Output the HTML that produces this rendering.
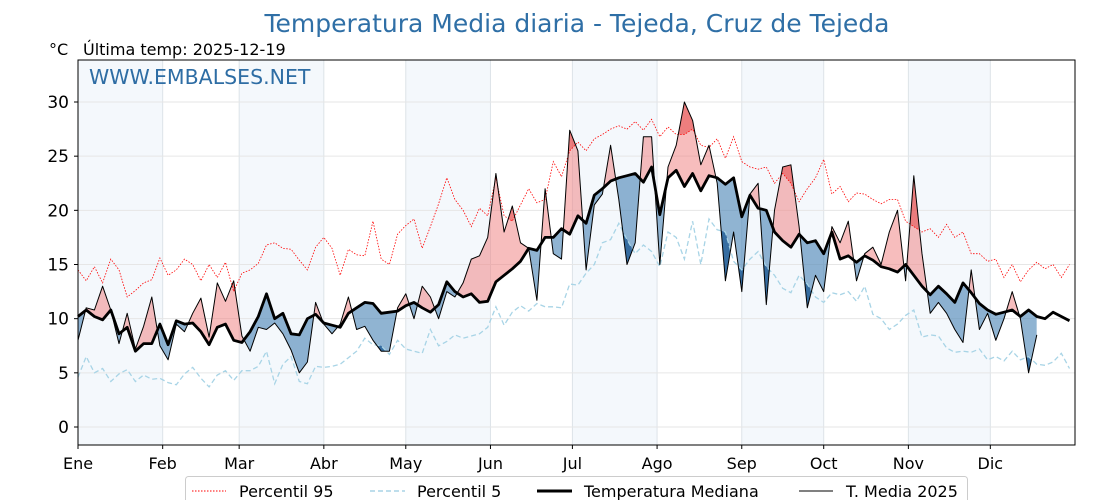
<!DOCTYPE html>
<html><head><meta charset="utf-8">
<style>
body{margin:0;background:#fff;}
svg{display:block;font-family:"DejaVu Sans","Liberation Sans",sans-serif;}
</style></head>
<body>
<svg id="chart" width="1120" height="500" viewBox="0 0 1120 500" xmlns="http://www.w3.org/2000/svg">
<text x="577" y="32" text-anchor="middle" font-size="25" fill="#2f6fa6">Temperatura Media diaria - Tejeda, Cruz de Tejeda</text>
<text x="49" y="55" font-size="16" fill="#000">°C</text>
<text x="83" y="55" font-size="16" fill="#000">Última temp: 2025-12-19</text>
<g id="bands"></g>
<g id="grid"></g>
<g id="fills"></g>
<g id="lines"></g>
<text x="89" y="84" font-size="20.5" fill="#2e6da4">WWW.EMBALSES.NET</text>
<rect x="78" y="60" width="997" height="385" fill="none" stroke="#000" stroke-width="1"/>
<g id="axes"></g>
<g>
<rect x="185.5" y="476.5" width="782" height="30" rx="3" fill="#fff" stroke="#ccc"/>
<line x1="192" y1="491" x2="226" y2="491" stroke="red" stroke-width="1" stroke-dasharray="1.5,1.5"/>
<text x="239" y="497" font-size="16">Percentil 95</text>
<line x1="370" y1="491" x2="405" y2="491" stroke="#a8d4e6" stroke-width="1.5" stroke-dasharray="5,3"/>
<text x="417" y="497" font-size="16">Percentil 5</text>
<line x1="537" y1="491" x2="572" y2="491" stroke="#000" stroke-width="3"/>
<text x="584" y="497" font-size="16">Temperatura Mediana</text>
<line x1="799" y1="491" x2="833" y2="491" stroke="#000" stroke-width="1"/>
<text x="846" y="497" font-size="16">T. Media 2025</text>
</g>
</svg>
<script>
const STEP = 3; // days between samples
const monthLabels = ["Ene","Feb","Mar","Abr","May","Jun","Jul","Ago","Sep","Oct","Nov","Dic"];
const monthStartDays = [0,31,59,90,120,151,181,212,243,273,304,334];
const yTicks = [0,5,10,15,20,25,30];
const median = [10.2,10.8,10.2,9.9,10.8,8.6,9.2,7.0,7.7,7.7,9.5,7.6,9.8,9.5,9.6,8.8,7.6,9.2,9.5,8.0,7.8,8.8,10.2,12.3,10.0,10.5,8.6,8.5,10.0,10.4,9.6,
9.4,9.2,10.5,11,11.5,11.4,10.5,10.6,10.7,11.2,11.5,11,10.6,11.3,13.4,12.5,12,12.3,11.5,11.6,13.4,14,14.6,15.3,16.5,16.3,17.5,17.5,18.3,17.8,19.5,
18.8,21.4,22,22.7,23,23.2,23.4,22.6,24,19.6,23,23.7,22.2,23.4,21.8,23.2,23.0,22.4,23.0,19.4,21.4,20.2,20.0,18.0,17.2,16.6,17.8,17.0,17.2,16.0,
18.0,15.5,15.8,15.2,15.8,15.4,14.8,14.6,14.3,15.0,14.0,13.0,12.2,13.0,12.3,11.5,13.3,12.4,11.4,10.8,10.4,10.6,10.8,10.2,10.8,10.2,10.0,10.6,10.2,9.8];
const t2025 = [8.0,11,10.8,13.0,10.8,7.7,10.5,7.2,9.3,12.0,7.5,6.2,9.5,8.8,10.5,11.9,8.3,13.3,11.6,13.5,8.4,7.0,9.2,9.0,9.6,8.6,7.1,5.0,6.0,11.5,9.5,
8.6,9.5,12.0,9.0,9.3,8.0,7.0,7.0,11.0,12.3,10.0,13.0,12.0,10.0,12.5,12.0,13.3,15.5,15.8,17.5,23.4,18.0,20.4,17.0,16.5,11.7,22.0,16.0,15.5,27.4,25.5,
14.5,20.5,21.5,26.0,21.0,15.0,17.0,26.8,26.8,15.0,24.0,26.0,30.0,28.3,24.2,26.0,22.5,13.5,18.0,12.5,21.5,22.5,11.3,20.0,24.0,24.2,18.5,11.0,14.0,12.5,
18.5,17.0,19.0,13.5,16.0,16.6,15.0,18.0,20.0,13.5,23.2,16.0,10.5,11.5,10.5,9.0,7.8,14.5,9.0,10.5,8.0,10.0,12.5,10.0,5.0,8.5];
const p95 = [14.5,13.5,14.8,13.3,15.5,14.5,12.0,12.6,13.3,13.6,15.6,14.0,14.5,15.5,15.0,13.5,15.0,13.8,15.2,12.5,14.2,14.5,15.1,16.8,17.0,16.5,16.4,15.4,14.5,16.6,17.5,
16.5,14.0,16.4,15.9,15.8,19.0,15.5,15.0,17.8,18.6,19.2,16.5,18.5,20.6,23.0,21.0,20.0,18.5,20.2,19.5,23.0,19.5,19.0,20.5,22.0,20.7,21.0,24.5,23.1,25.5,26.3,
25.5,26.6,27.0,27.5,27.8,27.5,28.2,27.4,28.4,26.8,27.7,27.0,27.0,27.5,26.0,25.8,26.6,24.8,26.8,24.5,24.0,23.8,24.0,22.5,23.4,22.5,20.8,22.0,23.0,24.7,
21.5,22.2,20.8,21.6,21.5,21.0,20.6,21.0,21.0,19.0,18.5,18.0,18.3,17.5,18.7,17.5,18.0,16.0,16.0,15.3,15.5,13.8,15.0,13.4,14.5,15.2,14.6,15.0,13.8,15.0];
const p5 = [4.6,6.5,5.0,5.4,4.2,4.9,5.3,4.2,4.8,4.4,4.5,4.1,3.9,4.9,5.5,4.5,3.7,4.8,5.2,4.3,5.2,5.2,5.6,7.0,4.0,5.8,6.5,4.2,4.0,5.6,5.5,
5.6,5.8,6.4,7.0,8.2,7.6,7.5,6.7,8.0,7.2,7.0,6.8,9.0,7.5,7.9,8.5,8.2,8.4,8.6,9.2,11.1,9.4,10.6,11.2,10.7,11.4,11.1,11.1,11.0,13.2,13.1,
14.2,15.0,17.0,17.3,18.8,17.3,16.0,16.8,16.2,14.8,18.0,17.5,15.5,19.0,15.0,19.2,18.2,18.0,15.3,14.5,15.5,16.2,14.8,14.0,12.8,12.4,14.0,13.2,12.0,11.5,
12.4,12.2,12.5,11.6,13.0,10.4,10.0,9.0,9.5,10.3,10.8,8.3,8.5,8.4,7.3,6.9,7.0,6.9,7.2,6.2,6.5,6.1,7.0,6.2,6.5,5.8,5.7,6.0,6.8,5.4];

const NS = "http://www.w3.org/2000/svg";
const X0 = 78, X1 = 1075, Y0 = 60, Y1 = 445;
const xs = d => X0 + d * (X1 - X0) / 365;
const ys = v => 427 - v * (325 / 30);
function mk(tag, attrs, parent) {
  const e = document.createElementNS(NS, tag);
  for (const k in attrs) e.setAttribute(k, attrs[k]);
  parent.appendChild(e);
  return e;
}
const pts = arr => arr.map((v, i) => xs(i * STEP).toFixed(1) + "," + ys(v).toFixed(1));

const bands = document.getElementById("bands");
const grid = document.getElementById("grid");
const axes = document.getElementById("axes");
monthStartDays.forEach((d, i) => {
  const end = i < 11 ? monthStartDays[i + 1] : 365;
  if (i % 2 === 0) {
    const r = mk("rect", {x: xs(d), y: Y0, width: xs(end) - xs(d), height: Y1 - Y0, fill: "#f4f8fc"}, bands);
    
    
  }
  const gl = mk("line", {x1: xs(d), x2: xs(d), y1: Y0, y2: Y1, stroke: "#dde3e8", "stroke-width": 1}, grid);
  
  
  const tk = mk("line", {x1: xs(d), x2: xs(d), y1: Y1, y2: Y1 + 4, stroke: "#000"}, axes);
  
  
  const t = mk("text", {x: xs(d), y: 469, "text-anchor": "middle", "font-size": 16}, axes);
  t.textContent = monthLabels[i];
  
  
});
yTicks.forEach(v => {
  const gl = mk("line", {x1: X0, x2: X1, y1: ys(v), y2: ys(v), stroke: "#e6e6e6", "stroke-width": 1}, grid);
  
  
  const tk = mk("line", {x1: X0 - 4, x2: X0, y1: ys(v), y2: ys(v), stroke: "#000"}, axes);
  
  
  const t = mk("text", {x: 69, y: ys(v) + 6, "text-anchor": "end", "font-size": 17}, axes);
  t.textContent = v;
  
  
});

const svg = document.getElementById("chart");
const defs = mk("defs", {}, svg);
const n25 = t2025.length;
const medPts = pts(median);
const medSub = medPts.slice(0, n25);
const lastX = xs((n25 - 1) * STEP).toFixed(1);
const firstX = X0;
function clip(id, d) { const c = mk("clipPath", {id: id}, defs); mk("path", {d: d}, c); }
clip("aboveMed", "M" + firstX + "," + Y0 + " L" + medSub.join(" L") + " L" + lastX + "," + Y0 + "Z");
clip("belowMed", "M" + firstX + "," + Y1 + " L" + medSub.join(" L") + " L" + lastX + "," + Y1 + "Z");
clip("aboveP95", "M" + firstX + "," + Y0 + " L" + pts(p95).slice(0, n25).join(" L") + " L" + lastX + "," + Y0 + "Z");
clip("belowP5", "M" + firstX + "," + Y1 + " L" + pts(p5).slice(0, n25).join(" L") + " L" + lastX + "," + Y1 + "Z");
const p25 = pts(t2025);
const fills = document.getElementById("fills");
const underLine = "M" + firstX + "," + Y1 + " L" + p25.join(" L") + " L" + lastX + "," + Y1 + "Z";
const overLine = "M" + firstX + "," + Y0 + " L" + p25.join(" L") + " L" + lastX + "," + Y0 + "Z";
const gR = mk("g", {"clip-path": "url(#aboveMed)"}, fills);
const fr = mk("path", {d: underLine, fill: "#f08080", "fill-opacity": 0.52}, gR);


const gR2 = mk("g", {"clip-path": "url(#aboveP95)"}, gR);
const fr2 = mk("path", {d: underLine, fill: "#e03030", "fill-opacity": 0.45}, gR2);


const gB = mk("g", {"clip-path": "url(#belowMed)"}, fills);
const fb = mk("path", {d: overLine, fill: "#4682b4", "fill-opacity": 0.6}, gB);


const gB2 = mk("g", {"clip-path": "url(#belowP5)"}, gB);
const fb2 = mk("path", {d: overLine, fill: "#104e8b", "fill-opacity": 0.7}, gB2);



const lines = document.getElementById("lines");
const l95 = mk("polyline", {points: pts(p95).join(" "), fill: "none", stroke: "red", "stroke-width": 0.8, "stroke-dasharray": "1.5,1.5"}, lines);


const l5 = mk("polyline", {points: pts(p5).join(" "), fill: "none", stroke: "#a8d4e6", "stroke-width": 1.3, "stroke-dasharray": "5,3"}, lines);


const lm = mk("polyline", {points: medPts.join(" "), fill: "none", stroke: "#000", "stroke-width": 2.8, "stroke-linejoin": "round"}, lines);


const l25 = mk("polyline", {points: p25.join(" "), fill: "none", stroke: "#000", "stroke-width": 1, "stroke-linejoin": "round"}, lines);


</script>
</body></html>
